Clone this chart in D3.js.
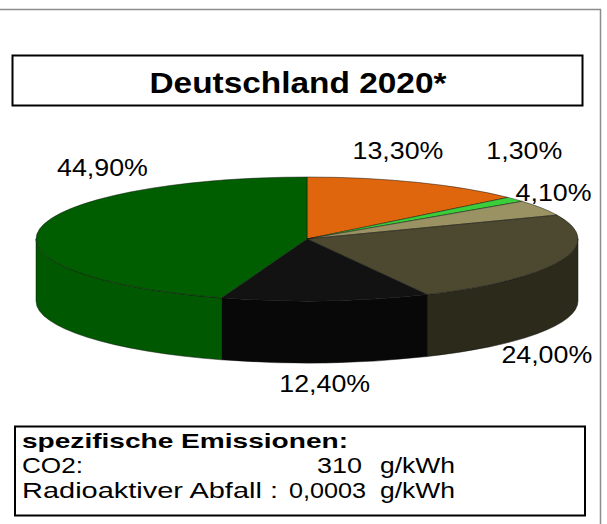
<!DOCTYPE html>
<html>
<head>
<meta charset="utf-8">
<script src="https://cdn.jsdelivr.net/npm/d3@7"></script>
<style>
body { margin: 0; background: #fff; }
text { font-family: "Liberation Sans", Arial, sans-serif; fill: #000; }
</style>
</head>
<body>
<svg id="chart" width="607" height="524"></svg>
<script>
// Werte aus dem Bild (Anteile in %, im Uhrzeigersinn ab 12 Uhr)
var segments = ["orange", "hellgruen", "hellbraun", "oliv", "schwarz", "gruen"];
var shares = [13.3, 1.3, 4.1, 24.0, 12.4, 44.9];
var topColors = ["#e0660e", "#3acf3a", "#9a9262", "#4d4930", "#121212", "#005e00"];
var sideColors = ["#b0520a", "#2aa02a", "#706a46", "#2c2a1b", "#080808", "#005800"];
var title = "Deutschland  2020*";
var boxHeading = "spezifische Emissionen:";
var rowNames = ["CO2:", "Radioaktiver Abfall :"];
var rowValues = ["310", "0,0003"];
var rowUnits = ["g/kWh", "g/kWh"];

// label nudges relative to the slice mid point on the top ellipse
var labelNudge = [[-19, -32], [9, -49], [12, -15], [-14, 94], [-1, 83], [63, -62]];

var svg = d3.select("#chart");
var de = d3.formatLocale({decimal: ",", thousands: ".", grouping: [3], currency: ["", " €"]});
var pct = de.format(".2f");

// outer frame
svg.append("path")
    .attr("d", "M0,9.5H600.5V524")
    .attr("fill", "none")
    .attr("stroke", "#8c8c8c")
    .attr("stroke-width", 1.5);

// title box
svg.append("rect")
    .attr("x", 12.5).attr("y", 55.5)
    .attr("width", 570).attr("height", 50)
    .attr("fill", "#fff").attr("stroke", "#000").attr("stroke-width", 2);
svg.append("text")
    .attr("x", 298).attr("y", 93)
    .attr("text-anchor", "middle")
    .attr("font-size", 29).attr("font-weight", "bold")
    .attr("textLength", 297).attr("lengthAdjust", "spacingAndGlyphs")
    .text(title);

// 3D pie
var cx = 307, cy = 239, rx = 271, ry = 62, depth = 62;
function pt(a) { return [cx + rx * Math.sin(a), cy - ry * Math.cos(a)]; }

var arcs = d3.pie().sort(null).value(function(d) { return d; })(shares);

function topPath(d) {
  var p0 = pt(d.startAngle), p1 = pt(d.endAngle);
  var large = (d.endAngle - d.startAngle) > Math.PI ? 1 : 0;
  return "M" + cx + "," + cy + "L" + p0 + "A" + rx + "," + ry + " 0 " + large + " 1 " + p1 + "Z";
}
function sidePath(d) {
  var s = Math.max(d.startAngle, Math.PI / 2), e = Math.min(d.endAngle, 3 * Math.PI / 2);
  if (e <= s) return null;
  var p0 = pt(s), p1 = pt(e);
  return "M" + p0 + "A" + rx + "," + ry + " 0 0 1 " + p1 +
         "L" + [p1[0], p1[1] + depth] +
         "A" + rx + "," + ry + " 0 0 0 " + [p0[0], p0[1] + depth] + "Z";
}

var pie = svg.append("g");
pie.selectAll(".side")
  .data(arcs.filter(function(d) { return sidePath(d); }))
  .enter().append("path")
    .attr("class", "side")
    .attr("d", sidePath)
    .attr("fill", function(d) { return sideColors[d.index]; })
    .attr("stroke", "#111").attr("stroke-opacity", 0.6).attr("stroke-width", 0.8);

pie.selectAll(".top")
  .data(arcs)
  .enter().append("path")
    .attr("class", "top")
    .attr("d", topPath)
    .attr("fill", function(d) { return topColors[d.index]; })
    .attr("stroke", "#111").attr("stroke-opacity", 0.6).attr("stroke-width", 0.8);

// percentage labels
svg.selectAll(".lbl")
  .data(arcs)
  .enter().append("text")
    .attr("class", "lbl")
    .attr("transform", function(d) {
      var p = pt((d.startAngle + d.endAngle) / 2);
      var n = labelNudge[d.index];
      return "translate(" + (p[0] + n[0]) + "," + (p[1] + n[1]) + ") scale(1.14,1)";
    })
    .attr("text-anchor", "middle")
    .attr("dy", "0.36em")
    .attr("font-size", 23.5)
    .text(function(d) { return pct(d.data) + "%"; });

// emissions box
svg.append("rect")
    .attr("x", 15).attr("y", 426.5)
    .attr("width", 570).attr("height", 89)
    .attr("fill", "#fff").attr("stroke", "#000").attr("stroke-width", 2);
svg.append("text")
    .attr("x", 22).attr("y", 448)
    .attr("font-size", 21).attr("font-weight", "bold")
    .attr("textLength", 326).attr("lengthAdjust", "spacingAndGlyphs")
    .text(boxHeading);

var rowY = [473, 498];
var nameLen = [61, 256];
var valueX = [317, 289];
var valueLen = [45, 77];
rowNames.forEach(function(name, i) {
  svg.append("text")
      .attr("x", 22).attr("y", rowY[i])
      .attr("font-size", 22)
      .attr("textLength", nameLen[i]).attr("lengthAdjust", "spacingAndGlyphs")
      .text(name);
  svg.append("text")
      .attr("x", valueX[i]).attr("y", rowY[i])
      .attr("font-size", 22)
      .attr("textLength", valueLen[i]).attr("lengthAdjust", "spacingAndGlyphs")
      .text(rowValues[i]);
  svg.append("text")
      .attr("x", 380).attr("y", rowY[i])
      .attr("font-size", 22)
      .attr("textLength", 75).attr("lengthAdjust", "spacingAndGlyphs")
      .text(rowUnits[i]);
});
</script>
</body>
</html>
